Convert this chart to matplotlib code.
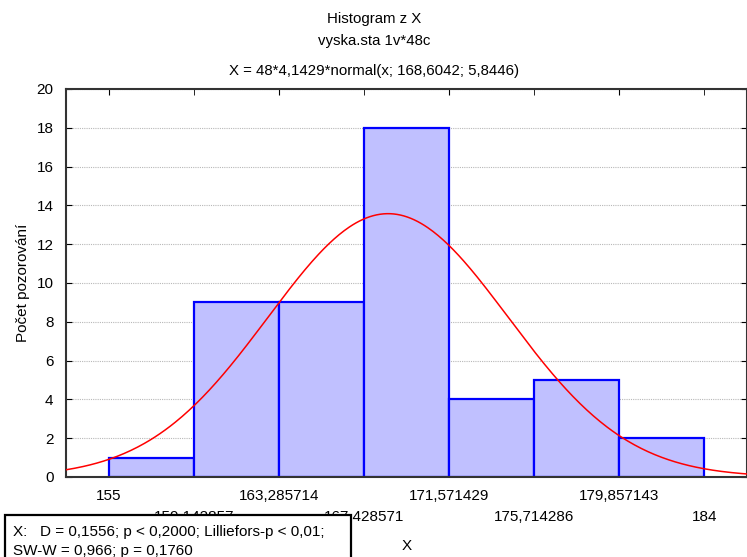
import numpy as np
import matplotlib.pyplot as plt
from matplotlib.patches import Rectangle

plt.rcParams['font.family'] = ['Liberation Sans', 'DejaVu Sans']

# histogram data
bin_edges = [155, 159.142857, 163.285714, 167.428571, 171.571429,
             175.714286, 179.857143, 184]
edge_labels = ['155', '159,142857', '163,285714', '167,428571', '171,571429',
               '175,714286', '179,857143', '184']
counts = [1, 9, 9, 18, 4, 5, 2]

# fitted normal curve parameters (from title)
n_obs = 48
bin_width = 4.1429
mu = 168.6042
sigma = 5.8446

title_lines = ['Histogram z X', 'vyska.sta 1v*48c',
               'X = 48*4,1429*normal(x; 168,6042; 5,8446)']
stats_lines = ['X:   D = 0,1556; p < 0,2000; Lilliefors-p < 0,01;',
               'SW-W = 0,966; p = 0,1760']

fig = plt.figure(figsize=(7.47, 5.57), dpi=100)
ax = fig.add_axes([66 / 747, 1 - 477 / 557, 1 - 66 / 747, (477 - 89) / 557])

widths = np.diff(bin_edges)
ax.bar(bin_edges[:-1], counts, width=widths, align='edge', color='#c0c0ff',
       edgecolor='#0000ff', linewidth=1.6, zorder=2)

xlim = (152.93, 186.07)
xs = np.linspace(xlim[0], xlim[1], 400)
ys = n_obs * bin_width * np.exp(-0.5 * ((xs - mu) / sigma) ** 2) / (sigma * np.sqrt(2 * np.pi))
ax.plot(xs, ys, color='#ff0000', linewidth=1.1, zorder=3)

ax.set_xlim(xlim)
ax.set_ylim(0, 20)
ax.set_yticks(range(0, 21, 2))
ax.yaxis.grid(True, linestyle=(0, (1, 1)), color='#b8b8b8', linewidth=0.8)
ax.set_axisbelow(True)

ax.set_xticks(bin_edges[::2])
ax.set_xticklabels(edge_labels[::2])
ax.set_xticks(bin_edges[1::2], minor=True)
ax.set_xticklabels(edge_labels[1::2], minor=True)
ax.tick_params(axis='x', which='major', direction='in', length=4, pad=8.5,
               labelsize=11, top=True)
ax.tick_params(axis='x', which='minor', direction='in', length=4, pad=23.5,
               labelsize=11, top=True)
ax.tick_params(axis='y', direction='in', length=4, pad=9, labelsize=11,
               right=True)
for s in ax.spines.values():
    s.set_linewidth(1.5)
    s.set_color('#333333')

ax.set_ylabel('Počet pozorování', fontsize=11, labelpad=5)
ax.set_xlabel('X', fontsize=11, labelpad=11)

for y, line in zip([19, 41, 71], title_lines):
    fig.text(374 / 747, 1 - y / 557, line, ha='center', va='center', fontsize=10.8)

box = Rectangle((5 / 747, -0.05), 346 / 747, 0.05 + (557 - 515) / 557,
                transform=fig.transFigure, facecolor='white', edgecolor='black',
                linewidth=1.6, zorder=5)
fig.add_artist(box)
for y, line in zip([532, 551], stats_lines):
    fig.text(13 / 747, 1 - y / 557, line, ha='left', va='center', fontsize=11,
             zorder=6)

fig.savefig('out.png', dpi=100)
